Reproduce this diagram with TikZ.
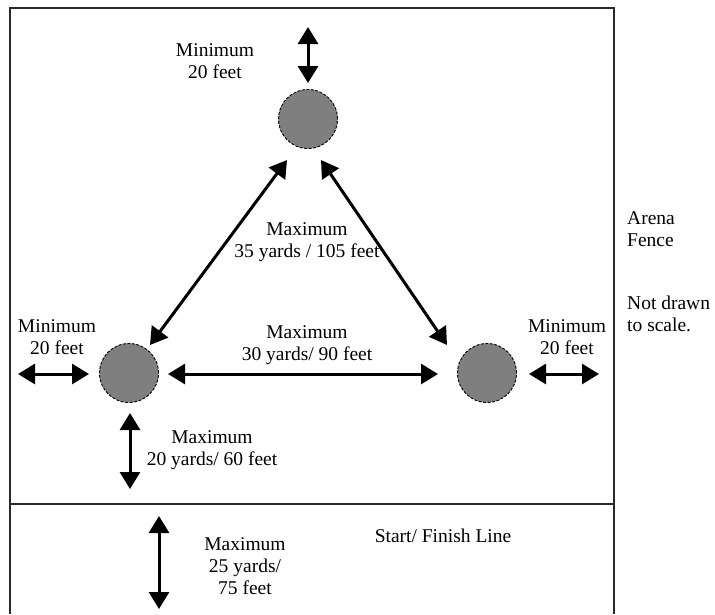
\documentclass[tikz,border=0pt]{standalone}
\usepackage{fontspec}
\setmainfont{Liberation Serif}
\usetikzlibrary{arrows.meta}
\definecolor{conegray}{HTML}{7F7F7F}
\definecolor{fencegray}{HTML}{2A2A2A}
\begin{document}
\begin{tikzpicture}[x=1pt,y=-1pt,
  cone/.style={circle,minimum size=59pt,inner sep=0pt,fill=conegray,draw=black,dash pattern=on 3pt off 1.5pt,line width=0.9pt},
  dim/.style={line width=3pt,{Triangle[length=17pt,width=20pt]}-{Triangle[length=17pt,width=20pt]}},
  fence/.style={draw=fencegray,line width=1.5pt},
  lbl/.style={align=center,font=\fontsize{19.5}{22}\selectfont,inner sep=0pt},
  side/.style={align=left,anchor=west,font=\fontsize{19.5}{22}\selectfont,inner sep=0pt}]
\useasboundingbox (0,0) rectangle (715,614);
\fill[white] (0,0) rectangle (715,614);
% fence
\coordinate (fbl) at (10,614);
\coordinate (ftl) at (10,8);
\coordinate (ftr) at (614,8);
\coordinate (fbr) at (614,614);
\coordinate (sl) at (10,504);
\coordinate (sr) at (614,504);
\draw[fence] (fbl) -- (ftl) -- (ftr) -- (fbr);
\draw[fence] (sl) -- (sr);
% cones
\node[cone] (ctop) at (308,119) {};
\node[cone] (cleft) at (129,373) {};
\node[cone] (cright) at (487,373) {};
% arrow ends
\coordinate (t1) at (308,27);
\coordinate (t2) at (308,83);
\coordinate (dl1) at (287,160);
\coordinate (dl2) at (150,345);
\coordinate (dr1) at (321,160);
\coordinate (dr2) at (447,345);
\coordinate (h1) at (168,374);
\coordinate (h2) at (438,374);
\coordinate (l1) at (18,374);
\coordinate (l2) at (89,374);
\coordinate (r1) at (529,374);
\coordinate (r2) at (599,374);
\coordinate (v1) at (130,413);
\coordinate (v2) at (130,489);
\coordinate (b1) at (159,516);
\coordinate (b2) at (159,609);
\draw[dim] (t1) -- (t2);
\draw[dim] (dl1) -- (dl2);
\draw[dim] (dr1) -- (dr2);
\draw[dim] (h1) -- (h2);
\draw[dim] (l1) -- (l2);
\draw[dim] (r1) -- (r2);
\draw[dim] (v1) -- (v2);
\draw[dim] (b1) -- (b2);
% labels
\node[lbl] (ltop) at (215,61) {Minimum\\20 feet};
\node[lbl] (lleft) at (57,337) {Minimum\\20 feet};
\node[lbl] (lright) at (567,337) {Minimum\\20 feet};
\node[lbl] (ltri) at (307,242) {Maximum\\35 yards / 105 feet};
\node[lbl] (lhor) at (307,345) {Maximum\\30 yards/ 90 feet};
\node[lbl] (lver) at (212,450) {Maximum\\20 yards/ 60 feet};
\node[lbl] (lbot) at (245,566) {Maximum\\25 yards/\\75 feet};
\node[lbl] (lstart) at (443,536) {Start/ Finish Line};
\node[side] (lfence) at (627,229) {Arena\\Fence};
\node[side] (lscale) at (627,314) {Not drawn\\to scale.};
\end{tikzpicture}
\end{document}
